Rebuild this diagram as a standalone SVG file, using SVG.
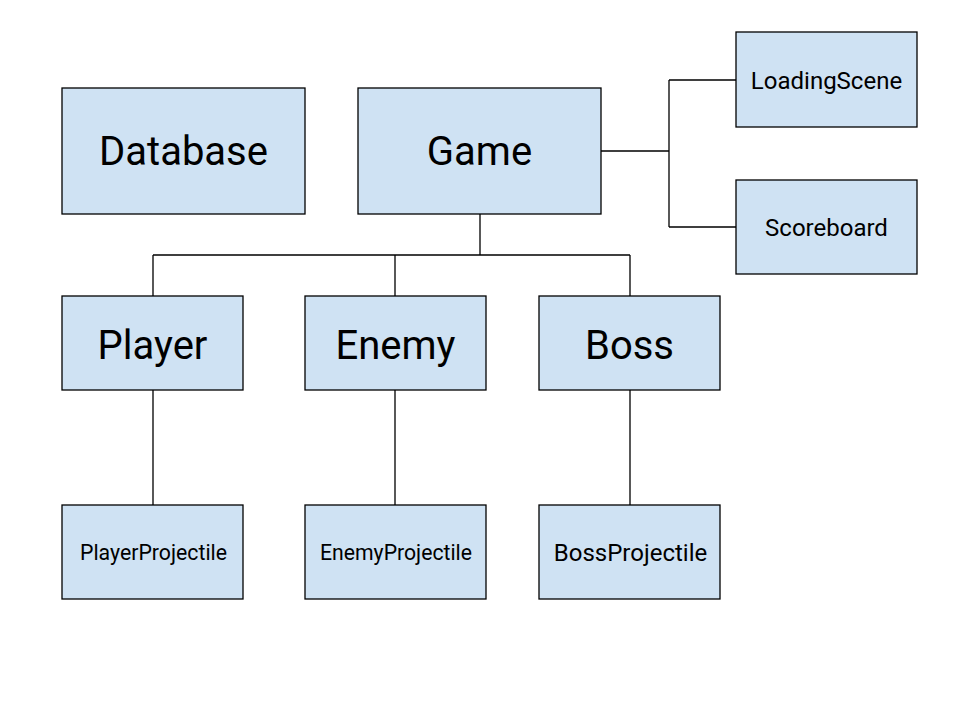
<svg xmlns="http://www.w3.org/2000/svg" width="960" height="720" viewBox="0 0 960 720">
<style>
.box{fill:#cfe2f3;stroke:#000;stroke-width:1.3}
.t{font-family:Roboto,"Liberation Sans",sans-serif;fill:#000;text-anchor:middle}
.big{font-size:40px}
.mid{font-size:24px}
.sm{font-size:22px}
.c{fill:none;stroke:#000;stroke-width:1.3}
</style>
<rect width="960" height="720" fill="#fff"/>
<g id="connectors">
<path class="c" d="M480,214V255M153,255H630M153,255V296M395,255V296M630,255V296"/>
<path class="c" d="M601,151H669M669,80V227M669,80H736M669,227H736"/>
<path class="c" d="M153,390V505M395,390V505M630,390V505"/>
</g>
<g id="database"><rect class="box" x="62" y="88" width="243" height="126"/><text class="t big" x="183.5" y="165">Database</text></g>
<g id="game"><rect class="box" x="358" y="88" width="243" height="126"/><text class="t big" x="479.5" y="165">Game</text></g>
<g id="loadingscene"><rect class="box" x="736" y="32" width="181" height="95"/><text class="t mid" x="826.5" y="88.5">LoadingScene</text></g>
<g id="scoreboard"><rect class="box" x="736" y="180" width="181" height="94"/><text class="t mid" x="826.5" y="235.5">Scoreboard</text></g>
<g id="player"><rect class="box" x="62" y="296" width="181" height="94"/><text class="t big" x="152.5" y="359">Player</text></g>
<g id="enemy"><rect class="box" x="305" y="296" width="181" height="94"/><text class="t big" x="395.5" y="359">Enemy</text></g>
<g id="boss"><rect class="box" x="539" y="296" width="181" height="94"/><text class="t big" x="629.5" y="359">Boss</text></g>
<g id="playerprojectile"><rect class="box" x="62" y="505" width="181" height="94"/><text class="t sm" x="153.5" y="560" textLength="147" lengthAdjust="spacingAndGlyphs">PlayerProjectile</text></g>
<g id="enemyprojectile"><rect class="box" x="305" y="505" width="181" height="94"/><text class="t sm" x="396" y="560" textLength="152" lengthAdjust="spacingAndGlyphs">EnemyProjectile</text></g>
<g id="bossprojectile"><rect class="box" x="539" y="505" width="181" height="94"/><text class="t mid" x="630.5" y="561">BossProjectile</text></g>
</svg>
